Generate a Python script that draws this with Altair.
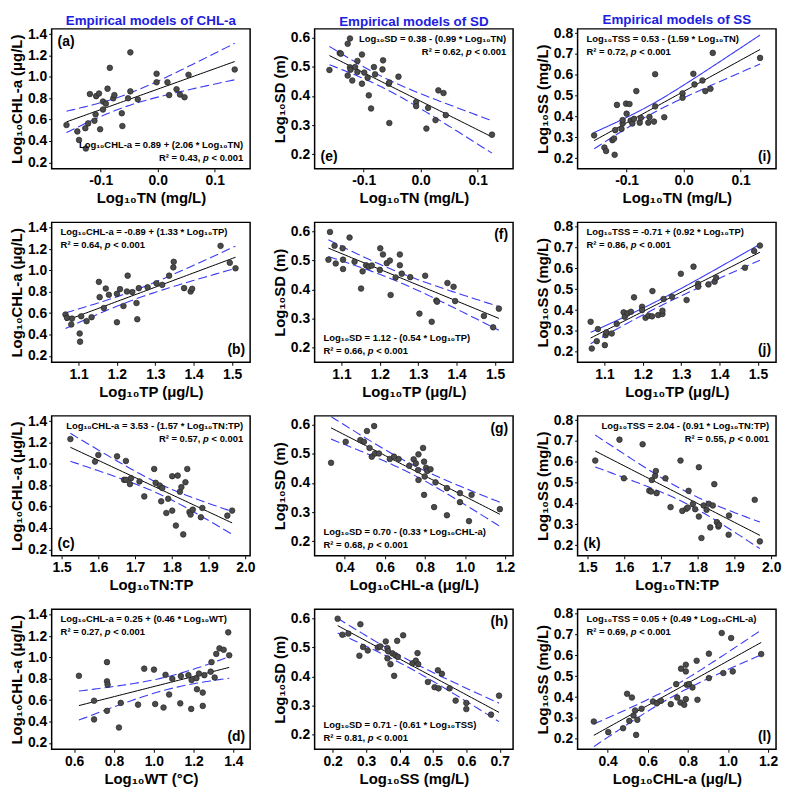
import altair as alt
import numpy as np
import pandas as pd

FONT = "Liberation Sans"
TITLE_BLUE = "#2020e0"
BAND_BLUE = "#3a3af5"
T95 = 2.03

# ---------------- data ----------------
# column titles
col_titles = ["Empirical models of CHL-a", "Empirical models of SD", "Empirical models of SS"]

# (a) Log10TN vs Log10CHL-a
a_x = [-0.160, -0.141, -0.138, -0.127, -0.122, -0.119, -0.126, -0.111, -0.109, -0.108, -0.103, -0.101,
       -0.096, -0.096, -0.091, -0.088, -0.084, -0.078, -0.076, -0.063, -0.062, -0.048, -0.048, -0.052,
       -0.035, -0.002, -0.002, 0.017, 0.020, 0.033, 0.039, 0.047, 0.054, 0.135]
a_y = [0.55, 0.49, 0.41, 0.52, 0.565, 0.84, 0.33, 0.59, 0.65, 0.82, 0.845, 0.51,
       0.77, 0.695, 0.75, 0.89, 1.085, 0.80, 0.83, 0.66, 0.54, 1.23, 0.865, 0.80,
       0.79, 1.03, 0.95, 0.95, 0.83, 0.885, 0.835, 0.81, 1.02, 1.07]

# (e) Log10TN vs Log10SD
e_x = [-0.160, -0.142, -0.140, -0.128, -0.124, -0.128, -0.124, -0.123, -0.120, -0.115, -0.111, -0.111,
       -0.103, -0.103, -0.099, -0.093, -0.091, -0.087, -0.082, -0.080, -0.066, -0.067, -0.056, -0.055,
       -0.055, -0.039, -0.008, -0.008, 0.010, 0.013, 0.026, 0.031, 0.040, 0.044, 0.125]
e_y = [0.489, 0.547, 0.545, 0.579, 0.597, 0.470, 0.498, 0.490, 0.453, 0.499, 0.520, 0.482,
       0.542, 0.442, 0.480, 0.462, 0.402, 0.357, 0.499, 0.474, 0.522, 0.491, 0.442, 0.446,
       0.307, 0.466, 0.379, 0.365, 0.288, 0.359, 0.317, 0.419, 0.410, 0.334, 0.267]

# (i) Log10TN vs Log10SS
i_x = [-0.157, -0.139, -0.136, -0.125, -0.122, -0.121, -0.120, -0.117, -0.109, -0.107, -0.107, -0.101,
       -0.100, -0.095, -0.093, -0.090, -0.087, -0.083, -0.077, -0.075, -0.062, -0.060, -0.052, -0.050,
       -0.050, -0.034, -0.002, -0.002, 0.017, 0.019, 0.033, 0.038, 0.047, 0.051, 0.134]
i_y = [0.310, 0.252, 0.235, 0.287, 0.295, 0.217, 0.335, 0.456, 0.341, 0.367, 0.383, 0.462,
       0.414, 0.460, 0.381, 0.367, 0.389, 0.522, 0.371, 0.394, 0.371, 0.398, 0.376, 0.603,
       0.449, 0.397, 0.511, 0.490, 0.605, 0.554, 0.573, 0.522, 0.533, 0.705, 0.681]

# (b) Log10TP vs Log10CHL-a
b_x = [1.066, 1.070, 1.083, 1.081, 1.103, 1.104, 1.107, 1.121, 1.134, 1.153, 1.155, 1.166,
       1.171, 1.179, 1.200, 1.200, 1.208, 1.217, 1.226, 1.228, 1.240, 1.251, 1.253, 1.257,
       1.280, 1.303, 1.318, 1.336, 1.347, 1.348, 1.375, 1.392, 1.396, 1.470, 1.494, 1.509]
b_y = [0.587, 0.556, 0.549, 0.494, 0.410, 0.333, 0.571, 0.525, 0.562, 0.893, 0.750, 0.648,
       0.831, 0.772, 0.515, 0.781, 0.825, 0.667, 0.803, 0.951, 0.797, 0.695, 0.543, 0.834,
       0.843, 0.880, 0.865, 0.951, 1.029, 1.081, 0.834, 0.803, 0.828, 1.230, 1.072, 1.020]

# (f) Log10TP vs Log10SD
f_x = [1.066, 1.070, 1.082, 1.085, 1.103, 1.104, 1.104, 1.121, 1.134, 1.151, 1.155, 1.164,
       1.171, 1.179, 1.200, 1.201, 1.208, 1.218, 1.226, 1.228, 1.241, 1.252, 1.252, 1.257,
       1.279, 1.303, 1.318, 1.335, 1.347, 1.349, 1.376, 1.392, 1.396, 1.471, 1.495, 1.510]
f_y = [0.502, 0.597, 0.550, 0.489, 0.541, 0.502, 0.470, 0.578, 0.495, 0.403, 0.462, 0.483,
       0.478, 0.482, 0.467, 0.541, 0.520, 0.490, 0.499, 0.381, 0.441, 0.520, 0.483, 0.454,
       0.442, 0.317, 0.447, 0.289, 0.362, 0.358, 0.422, 0.409, 0.360, 0.309, 0.270, 0.334]

# (j) Log10TP vs Log10SS
j_x = [1.064, 1.067, 1.080, 1.083, 1.101, 1.103, 1.105, 1.119, 1.132, 1.150, 1.153, 1.160,
       1.169, 1.177, 1.198, 1.198, 1.207, 1.215, 1.224, 1.225, 1.240, 1.251, 1.251, 1.254,
       1.276, 1.299, 1.314, 1.332, 1.344, 1.344, 1.371, 1.387, 1.391, 1.466, 1.490, 1.505]
j_y = [0.344, 0.216, 0.251, 0.309, 0.232, 0.280, 0.293, 0.288, 0.334, 0.389, 0.368, 0.384,
       0.392, 0.461, 0.416, 0.400, 0.363, 0.373, 0.370, 0.491, 0.376, 0.381, 0.397, 0.453,
       0.464, 0.574, 0.448, 0.608, 0.526, 0.512, 0.523, 0.536, 0.555, 0.603, 0.683, 0.709]

# (c) Log10TN:TP vs Log10CHL-a
c_x = [1.524, 1.591, 1.600, 1.651, 1.675, 1.670, 1.675, 1.686, 1.689, 1.712, 1.725, 1.752,
       1.756, 1.767, 1.774, 1.771, 1.785, 1.790, 1.801, 1.801, 1.811, 1.816, 1.822, 1.826,
       1.831, 1.837, 1.842, 1.848, 1.851, 1.857, 1.879, 1.883, 1.951, 1.964]
c_y = [1.233, 1.022, 1.084, 1.071, 1.028, 0.851, 0.851, 0.811, 0.867, 0.836, 0.696, 0.953,
       0.823, 0.798, 0.774, 0.650, 0.541, 0.674, 0.885, 0.563, 0.423, 0.891, 0.740, 0.783,
       0.340, 0.829, 0.953, 0.550, 0.526, 0.572, 0.501, 0.588, 0.516, 0.563]

# (g) Log10CHL-a vs Log10SD
g_x = [0.332, 0.405, 0.478, 0.496, 0.511, 0.524, 0.535, 0.547, 0.551, 0.571, 0.625, 0.646,
       0.669, 0.722, 0.744, 0.755, 0.768, 0.768, 0.766, 0.791, 0.796, 0.796, 0.799, 0.806,
       0.812, 0.828, 0.853, 0.846, 0.910, 0.910, 0.975, 0.975, 1.020, 1.033, 1.174]
g_y = [0.469, 0.541, 0.547, 0.541, 0.578, 0.520, 0.490, 0.595, 0.501, 0.501, 0.482, 0.490,
       0.482, 0.459, 0.481, 0.467, 0.498, 0.410, 0.444, 0.520, 0.473, 0.359, 0.422, 0.452,
       0.441, 0.447, 0.402, 0.317, 0.382, 0.289, 0.365, 0.334, 0.269, 0.359, 0.310]

# (k) Log10TN:TP vs Log10SS
k_x = [1.521, 1.587, 1.599, 1.650, 1.668, 1.675, 1.673, 1.684, 1.686, 1.688, 1.712, 1.726,
       1.753, 1.758, 1.769, 1.773, 1.775, 1.787, 1.793, 1.803, 1.803, 1.810, 1.816, 1.824,
       1.830, 1.834, 1.841, 1.845, 1.852, 1.856, 1.858, 1.884, 1.885, 1.955, 1.969]
k_y = [0.606, 0.706, 0.521, 0.684, 0.462, 0.513, 0.458, 0.533, 0.556, 0.450, 0.521, 0.383,
       0.606, 0.365, 0.375, 0.381, 0.461, 0.399, 0.373, 0.574, 0.338, 0.235, 0.391, 0.370,
       0.399, 0.286, 0.391, 0.493, 0.311, 0.290, 0.298, 0.251, 0.343, 0.418, 0.219]

# (d) Log10WT vs Log10CHL-a
d_x = [0.624, 0.700, 0.700, 0.765, 0.765, 0.768, 0.765, 0.825, 0.834, 0.921, 0.952, 1.001,
       1.007, 1.059, 1.049, 1.077, 1.093, 1.133, 1.136, 1.174, 1.188, 1.190, 1.214, 1.217,
       1.227, 1.246, 1.246, 1.254, 1.286, 1.290, 1.306, 1.314, 1.330, 1.351, 1.374, 1.379]
d_y = [0.828, 0.595, 0.420, 0.956, 0.776, 0.745, 0.500, 0.344, 0.574, 0.558, 0.895, 0.886,
       0.564, 0.837, 0.531, 0.653, 0.800, 0.570, 0.825, 0.834, 0.518, 0.788, 0.806, 0.702,
       0.849, 0.671, 0.546, 0.834, 0.867, 0.956, 0.812, 1.033, 1.085, 1.072, 1.235, 1.020]

# (h) Log10SS vs Log10SD
h_x = [0.215, 0.229, 0.247, 0.283, 0.280, 0.291, 0.305, 0.335, 0.342, 0.359, 0.364, 0.366,
       0.364, 0.373, 0.379, 0.384, 0.388, 0.393, 0.395, 0.411, 0.439, 0.449, 0.454, 0.456,
       0.485, 0.505, 0.515, 0.517, 0.527, 0.550, 0.568, 0.600, 0.600, 0.674, 0.698]
h_y = [0.598, 0.543, 0.547, 0.579, 0.471, 0.501, 0.489, 0.499, 0.503, 0.520, 0.497, 0.486,
       0.462, 0.442, 0.479, 0.402, 0.472, 0.522, 0.467, 0.541, 0.445, 0.454, 0.480, 0.442,
       0.381, 0.363, 0.421, 0.359, 0.409, 0.359, 0.317, 0.309, 0.288, 0.269, 0.334]

# (l) Log10CHL-a vs Log10SS
l_x = [0.331, 0.403, 0.477, 0.497, 0.508, 0.521, 0.529, 0.537, 0.542, 0.548, 0.569, 0.626,
       0.645, 0.666, 0.715, 0.742, 0.747, 0.766, 0.763, 0.782, 0.790, 0.790, 0.790, 0.795,
       0.806, 0.823, 0.844, 0.848, 0.905, 0.905, 0.969, 0.977, 1.016, 1.024, 1.166]
l_y = [0.283, 0.232, 0.251, 0.416, 0.286, 0.398, 0.312, 0.336, 0.219, 0.291, 0.344, 0.379,
       0.370, 0.382, 0.366, 0.462, 0.398, 0.536, 0.374, 0.363, 0.555, 0.523, 0.390, 0.459,
       0.462, 0.446, 0.574, 0.387, 0.608, 0.491, 0.707, 0.515, 0.683, 0.523, 0.606]

# axis titles and ticks
T_TN = "Log₁₀TN (mg/L)"
T_TP = "Log₁₀TP (μg/L)"
T_NP = "Log₁₀TN:TP"
T_WT = "Log₁₀WT (°C)"
T_CHLx = "Log₁₀CHL-a (μg/L)"
T_SSx = "Log₁₀SS (mg/L)"
T_CHL = "Log₁₀CHL-a (μg/L)"
T_SD = "Log₁₀SD (m)"
T_SS = "Log₁₀SS (mg/L)"

TN_ticks = [-0.1, 0.0, 0.1]
TP_ticks = [1.1, 1.2, 1.3, 1.4, 1.5]
NP_ticks = [1.5, 1.6, 1.7, 1.8, 1.9, 2.0]
WT_ticks = [0.6, 0.8, 1.0, 1.2, 1.4]
CHLx_ticks = [0.4, 0.6, 0.8, 1.0, 1.2]
SSx_ticks = [0.2, 0.3, 0.4, 0.5, 0.6, 0.7]
CHL_ticks = [0.2, 0.4, 0.6, 0.8, 1.0, 1.2, 1.4]
SD_ticks = [0.2, 0.3, 0.4, 0.5, 0.6]
SS_ticks = [0.2, 0.3, 0.4, 0.5, 0.6, 0.7, 0.8]

TN_dom = [-0.186, 0.162]
TP_dom = [1.03, 1.547]
NP_dom = [1.473, 2.013]
WT_dom = [0.487, 1.484]
CHLx_dom = [0.25, 1.24]
SSx_dom = [0.146, 0.74]
CHL_dom = [0.14, 1.45]
SD_dom = [0.15, 0.63]
SS_dom = [0.15, 0.82]

# equations and R² values
eqs = {
    "a": "Log₁₀CHL-a = 0.89 + (2.06 * Log₁₀TN)",
    "e": "Log₁₀SD = 0.38 - (0.99 * Log₁₀TN)",
    "i": "Log₁₀TSS = 0.53 - (1.59 * Log₁₀TN)",
    "b": "Log₁₀CHL-a = -0.89 + (1.33 * Log₁₀TP)",
    "f": "Log₁₀SD = 1.12 - (0.54 * Log₁₀TP)",
    "j": "Log₁₀TSS = -0.71 + (0.92 * Log₁₀TP)",
    "c": "Log₁₀CHL-a = 3.53 - (1.57 * Log₁₀TN:TP)",
    "g": "Log₁₀SD = 0.70 - (0.33 * Log₁₀CHL-a)",
    "k": "Log₁₀TSS = 2.04 - (0.91 * Log₁₀TN:TP)",
    "d": "Log₁₀CHL-a = 0.25 + (0.46 * Log₁₀WT)",
    "h": "Log₁₀SD = 0.71 - (0.61 * Log₁₀TSS)",
    "l": "Log₁₀TSS = 0.05 + (0.49 * Log₁₀CHL-a)",
}
r2s = {"a": "0.43", "e": "0.62", "i": "0.72", "b": "0.64", "f": "0.66", "j": "0.86",
       "c": "0.57", "g": "0.68", "k": "0.55", "d": "0.27", "h": "0.81", "l": "0.69"}

W, H = 200, 141
EQ_SIZE = 9.5
EM = EQ_SIZE
# approximate widths (Liberation Sans Bold metrics) for piecing the R² line
W_A = 4.419 * EM      # "R² = 0.43,"
W_SP = 0.278 * EM     # space
W_P = 0.611 * EM      # italic p
W_B = 3.364 * EM      # "< 0.001"


def text_layer(s, px, py, align, size=EQ_SIZE, style="normal"):
    return alt.Chart(pd.DataFrame({"t": [s]})).mark_text(
        align=align, baseline="middle", font=FONT, fontSize=size,
        fontWeight="bold", fontStyle=style, color="black"
    ).encode(x=alt.value(px), y=alt.value(py), text="t:N")


def r2_layers(r2, x0, y0, align):
    a = f"R² = {r2},"
    b = "< 0.001"
    if align == "left":
        return [text_layer(a, x0, y0, "left"),
                text_layer("p", x0 + W_A + W_SP, y0, "left", style="italic"),
                text_layer(b, x0 + W_A + 2 * W_SP + W_P, y0, "left")]
    return [text_layer(b, x0, y0, "right"),
            text_layer("p", x0 - W_B - W_SP, y0, "right", style="italic"),
            text_layer(a, x0 - W_B - 2 * W_SP - W_P, y0, "right")]


def panel(tag, xs, ys, xdom, ydom, xt, yt, xtitle, ytitle,
          tag_pos, eq_pos, solid_upper=False, col_title=None):
    x = np.array(xs, dtype=float)
    y = np.array(ys, dtype=float)
    n = len(x)
    b1, b0 = np.polyfit(x, y, 1)
    resid = y - (b0 + b1 * x)
    s = np.sqrt((resid ** 2).sum() / (n - 2))
    xm = x.mean()
    sxx = ((x - xm) ** 2).sum()
    gx = np.linspace(x.min(), x.max(), 60)
    fit = b0 + b1 * gx
    half = T95 * s * np.sqrt(1.0 / n + (gx - xm) ** 2 / sxx)

    pts = pd.DataFrame({"x": x, "y": y})
    fdf = pd.DataFrame({"x": gx, "y": fit})
    udf = pd.DataFrame({"x": gx, "y": fit + half})
    ldf = pd.DataFrame({"x": gx, "y": fit - half})

    lab_expr = "replace(format(datum.value, '.1f'), '\u2212', '-')"
    X = alt.X("x:Q", scale=alt.Scale(domain=xdom, nice=False, zero=False),
              axis=alt.Axis(title=xtitle, values=xt, labelExpr=lab_expr))
    Y = alt.Y("y:Q", scale=alt.Scale(domain=ydom, nice=False, zero=False),
              axis=alt.Axis(title=ytitle, values=yt, labelExpr=lab_expr))

    upper = alt.Chart(udf).mark_line(color=BAND_BLUE, strokeWidth=1.1,
                                     strokeDash=[1, 0] if solid_upper else [9, 4]).encode(x=X, y=Y)
    lower = alt.Chart(ldf).mark_line(color=BAND_BLUE, strokeWidth=1.1,
                                     strokeDash=[9, 4]).encode(x=X, y=Y)
    line = alt.Chart(fdf).mark_line(color="black", strokeWidth=1).encode(x=X, y=Y)
    points = alt.Chart(pts).mark_circle(size=32, color="#4b4b4b", opacity=1,
                                        stroke="#262626", strokeWidth=0.7).encode(x=X, y=Y)

    layers = [upper, lower, line, points]

    # panel tag
    tv, th = tag_pos
    ty = 13 if tv == "top" else H - 12
    if th == "left":
        layers.append(text_layer(f"({tag})", 6, ty, "left", 14))
    else:
        layers.append(text_layer(f"({tag})", W - 5, ty, "right", 14))

    # equation block
    ev, eh = eq_pos
    if ev == "top":
        y1, y2 = 10, 23
    else:
        y1, y2 = H - 24, H - 11
    if eh == "left":
        layers.append(text_layer(eqs[tag], 9, y1, "left"))
        layers += r2_layers(r2s[tag], 9, y2, "left")
    else:
        layers.append(text_layer(eqs[tag], W - 7, y1, "right"))
        layers += r2_layers(r2s[tag], W - 7, y2, "right")

    ch = alt.layer(*layers)
    if col_title is not None:
        ch = ch.properties(width=W, height=H, title=alt.TitleParams(
            text=col_title, color=TITLE_BLUE, font=FONT, fontSize=13.5,
            fontWeight="bold", anchor="middle", offset=0))
    else:
        ch = ch.properties(width=W, height=H)
    return ch


panels = [
    panel("a", a_x, a_y, TN_dom, CHL_dom, TN_ticks, CHL_ticks, T_TN, T_CHL,
          ("top", "left"), ("bottom", "right"), col_title=col_titles[0]),
    panel("e", e_x, e_y, TN_dom, SD_dom, TN_ticks, SD_ticks, T_TN, T_SD,
          ("bottom", "left"), ("top", "right"), col_title=col_titles[1]),
    panel("i", i_x, i_y, TN_dom, SS_dom, TN_ticks, SS_ticks, T_TN, T_SS,
          ("bottom", "right"), ("top", "left"), solid_upper=True, col_title=col_titles[2]),
    panel("b", b_x, b_y, TP_dom, CHL_dom, TP_ticks, CHL_ticks, T_TP, T_CHL,
          ("bottom", "right"), ("top", "left")),
    panel("f", f_x, f_y, TP_dom, SD_dom, TP_ticks, SD_ticks, T_TP, T_SD,
          ("top", "right"), ("bottom", "left")),
    panel("j", j_x, j_y, TP_dom, SS_dom, TP_ticks, SS_ticks, T_TP, T_SS,
          ("bottom", "right"), ("top", "left"), solid_upper=True),
    panel("c", c_x, c_y, NP_dom, CHL_dom, NP_ticks, CHL_ticks, T_NP, T_CHL,
          ("bottom", "left"), ("top", "right")),
    panel("g", g_x, g_y, CHLx_dom, SD_dom, CHLx_ticks, SD_ticks, T_CHLx, T_SD,
          ("top", "right"), ("bottom", "left")),
    panel("k", k_x, k_y, NP_dom, SS_dom, NP_ticks, SS_ticks, T_NP, T_SS,
          ("bottom", "left"), ("top", "right")),
    panel("d", d_x, d_y, WT_dom, CHL_dom, WT_ticks, CHL_ticks, T_WT, T_CHL,
          ("bottom", "right"), ("top", "left")),
    panel("h", h_x, h_y, SSx_dom, SD_dom, SSx_ticks, SD_ticks, T_SSx, T_SD,
          ("top", "right"), ("bottom", "left")),
    panel("l", l_x, l_y, CHLx_dom, SS_dom, CHLx_ticks, SS_ticks, T_CHLx, T_SS,
          ("bottom", "right"), ("top", "left")),
]

chart = alt.concat(
    *panels, columns=3, spacing={"row": 54, "column": 65}, bounds="flush"
).properties(
    padding={"left": 0, "top": 0, "right": 0, "bottom": 0}
).configure_view(
    stroke="black", strokeWidth=1.5
).configure_axis(
    domain=False, grid=False, ticks=True, tickColor="black", tickSize=3, tickWidth=1,
    labelFont=FONT, labelFontSize=14, labelFontWeight="bold", labelColor="black",
    labelPadding=2, titleFont=FONT, titleFontSize=15, titleFontWeight="bold",
    titleColor="black", titlePadding=3, labelFlush=False, labelOverlap=False
).configure_title(font=FONT)

chart.save("out.html", embed_options={"renderer": "svg", "actions": False})
